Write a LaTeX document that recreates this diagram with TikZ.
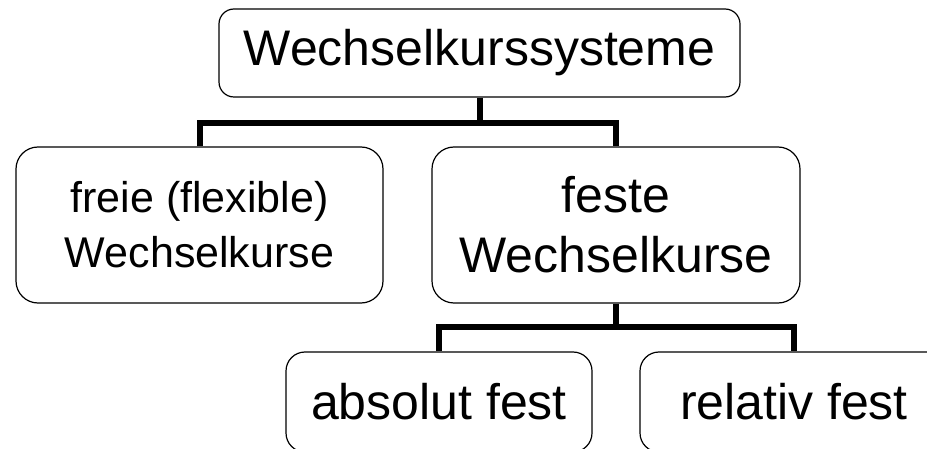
\documentclass[tikz,border=0pt]{standalone}
\usepackage{fontspec}
\setmainfont{Liberation Sans}
\usepackage{tikz}

\begin{document}
\begin{tikzpicture}[x=1pt,y=-1pt,
		kasten/.style={draw=black,line width=1.2pt,rounded corners=15pt,align=center,inner sep=0pt},
		linie/.style={line width=6pt}]
	
	\useasboundingbox (0,0) rectangle (927,449);
	
	\node[kasten,minimum width=521pt,minimum height=88pt,font=\fontsize{50}{60}\selectfont] (system) at (479.5,53) {Wechselkurssysteme};
	
	\node[kasten,rounded corners=22pt,minimum width=367pt,minimum height=156pt,font=\fontsize{43}{55}\selectfont] (frei) at (199.5,225) {freie (flexible)\\Wechselkurse};
	\node[kasten,rounded corners=22pt,minimum width=368pt,minimum height=156pt,font=\fontsize{50}{60}\selectfont] (fest) at (616,225) {feste\\Wechselkurse};
	
	\node[kasten,rounded corners=19pt,minimum width=306pt,minimum height=100pt,font=\fontsize{50}{60}\selectfont] (absolut) at (439,402) {absolut fest};
	\node[kasten,rounded corners=19pt,minimum width=308pt,minimum height=100pt,font=\fontsize{50}{60}\selectfont] (relativ) at (794,402) {relativ fest};
	
	\coordinate (knoten1) at (479.5,123);
	\coordinate (knoten2) at (616,327);
	
	\draw[linie] (system.south) -- (knoten1);
	\draw[linie] (frei.north) |- (knoten1) -| (fest.north);
	
	\draw[linie] (fest.south) -- (knoten2);
	\draw[linie] (absolut.north) |- (knoten2) -| (relativ.north);
\end{tikzpicture}
\end{document}
